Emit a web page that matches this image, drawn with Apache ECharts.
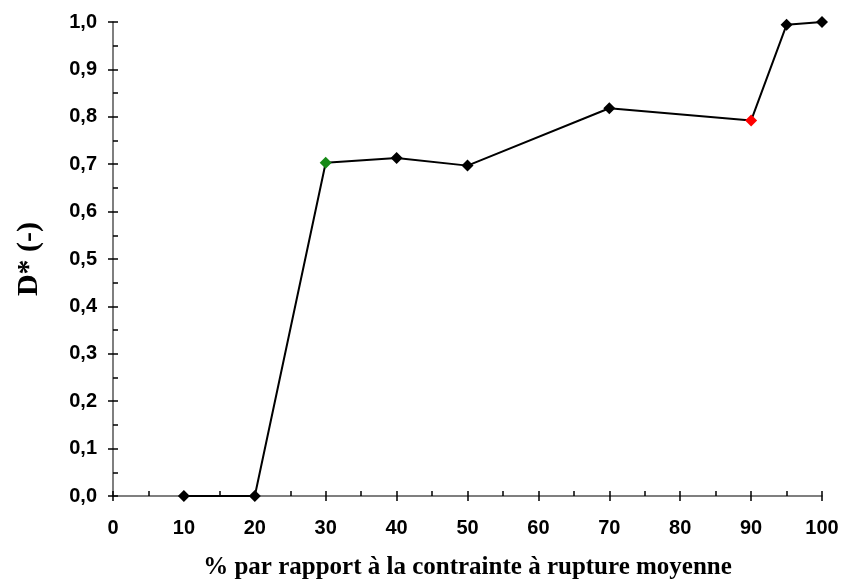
<!DOCTYPE html>
<html lang="fr">
<head>
<meta charset="UTF-8">
<title>D* vs contrainte</title>
<script src="https://cdn.jsdelivr.net/npm/echarts@6/dist/echarts.min.js"></script>
<style>
  body { margin: 0; padding: 0; background: #fff; }
  #chart { width: 844px; height: 579px; }
</style>
</head>
<body>
<div id="chart"></div>
<script>
// données
var xValues = [10, 20, 30, 40, 50, 70, 90, 95, 100];
var dValues = [0, 0, 0.703, 0.713, 0.697, 0.818, 0.792, 0.994, 1.0];
var pointColors = ['#000', '#000', '#178a17', '#000', '#000', '#000', '#ff0000', '#000', '#000'];

var xTitle = '% par rapport à la contrainte à rupture moyenne';
var yTitle = 'D* (-)';

var chart = echarts.init(document.getElementById('chart'));

var axisLine = { lineStyle: { color: '#555', width: 1.5 } };
var labelFont = { fontFamily: 'Liberation Sans, Arial', fontWeight: 'bold', fontSize: 20, color: '#000' };

function comma(v) { return v.toFixed(1).replace('.', ','); }

chart.setOption({
  animation: false,
  grid: { left: 113, right: 22, top: 22, bottom: 83, outerBoundsMode: 'none', containLabel: false },
  xAxis: [
    {
      type: 'value', min: 0, max: 100, interval: 10,
      axisLine: axisLine,
      axisTick: { show: true, length: 5, lineStyle: { color: '#000', width: 1.5 } },
      axisLabel: Object.assign({ margin: 22 }, labelFont),
      splitLine: { show: false },
      name: xTitle, nameLocation: 'middle', nameGap: 59,
      nameTextStyle: { fontFamily: 'Liberation Serif, Times New Roman', fontWeight: 'bold', fontSize: 25, color: '#000' }
    },
    {
      type: 'value', min: 0, max: 100, interval: 10, position: 'bottom',
      axisLine: { show: false },
      axisTick: { show: true, inside: true, length: 5, lineStyle: { color: '#000', width: 1.5 } },
      minorTick: { show: true, splitNumber: 2, length: 5, lineStyle: { color: '#000', width: 1.5 } },
      axisLabel: { show: false },
      splitLine: { show: false }
    }
  ],
  yAxis: [
    {
      type: 'value', min: 0, max: 1, interval: 0.1,
      axisLine: Object.assign({ show: true }, axisLine),
      axisTick: { show: true, length: 5, lineStyle: { color: '#000', width: 1.5 } },
      axisLabel: Object.assign({ margin: 16, formatter: comma }, labelFont),
      splitLine: { show: false },
      name: yTitle, nameLocation: 'middle', nameGap: 69,
      nameTextStyle: { fontFamily: 'Liberation Serif, Times New Roman', fontWeight: 'bold', fontSize: 30, color: '#000' }
    },
    {
      type: 'value', min: 0, max: 1, interval: 0.1, position: 'left',
      axisLine: { show: false },
      axisTick: { show: true, inside: true, length: 5, lineStyle: { color: '#000', width: 1.5 } },
      minorTick: { show: true, splitNumber: 2, length: 5, lineStyle: { color: '#000', width: 1.5 } },
      axisLabel: { show: false },
      splitLine: { show: false }
    }
  ],
  series: [{
    type: 'line',
    xAxisIndex: 0, yAxisIndex: 0,
    symbol: 'diamond', symbolSize: 12,
    lineStyle: { color: '#000', width: 2 },
    data: xValues.map(function (x, i) {
      return { value: [x, dValues[i]], itemStyle: { color: pointColors[i], borderWidth: 0 } };
    })
  }]
});
</script>
</body>
</html>
